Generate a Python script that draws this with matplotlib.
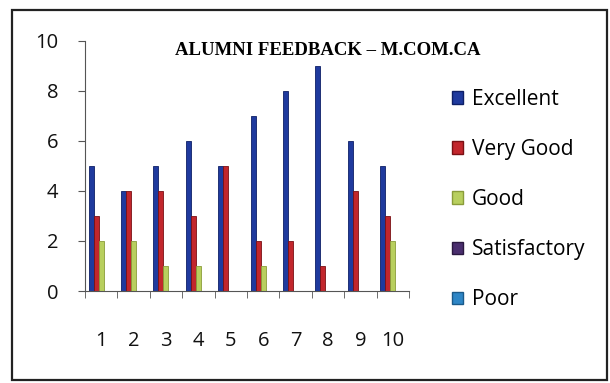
import matplotlib.pyplot as plt
import numpy as np
from matplotlib.patches import Rectangle, Patch

# Chart data
categories = ["1", "2", "3", "4", "5", "6", "7", "8", "9", "10"]
series_names = ["Excellent", "Very Good", "Good", "Satisfactory", "Poor"]
excellent = [5, 4, 5, 6, 5, 7, 8, 9, 6, 5]
very_good = [3, 4, 4, 3, 5, 2, 2, 1, 4, 3]
good = [2, 2, 1, 1, 0, 1, 0, 0, 0, 2]
satisfactory = [0, 0, 0, 0, 0, 0, 0, 0, 0, 0]
poor = [0, 0, 0, 0, 0, 0, 0, 0, 0, 0]

colors = ["#1f3a9e", "#c2262c", "#b8cf5e", "#4a2e6e", "#2e86c6"]
edges = ["#0e1f66", "#7a1014", "#8a9c3a", "#2a1840", "#1a5a8a"]

fig = plt.figure(figsize=(6.1, 3.83), dpi=100)
ax = fig.add_axes([0.1393, 0.2402, 0.5312, 0.6528])

x = np.arange(len(categories))
width = 0.155
values = [excellent, very_good, good, satisfactory, poor]
for i, vals in enumerate(values):
    ax.bar(x + (i - 2) * width, vals, width, color=colors[i],
           edgecolor=edges[i], linewidth=0.6, label=series_names[i])

ax.set_xlim(-0.5, len(categories) - 0.5)
ax.set_ylim(0, 10)
ax.set_yticks([0, 2, 4, 6, 8, 10])

for s in ["top", "right"]:
    ax.spines[s].set_visible(False)
ax.spines["left"].set_color("#555555")
ax.spines["bottom"].set_color("#555555")
ax.spines["left"].set_linewidth(0.8)
ax.spines["bottom"].set_linewidth(0.8)

ax.set_xticks(x)
ax.set_xticklabels(categories)
ax.set_xticks(np.arange(-0.5, len(categories)), minor=True)
ax.tick_params(axis="x", which="major", length=0, pad=29)
ax.tick_params(axis="x", which="minor", length=5, direction="out", color="#555555")
ax.tick_params(axis="y", length=5, pad=14, color="#555555")
for lab in ax.get_xticklabels() + ax.get_yticklabels():
    lab.set_fontfamily("Open Sans")
    lab.set_fontsize(14.5)
    lab.set_color("#111111")

fig.text(0.538, 0.868, "ALUMNI FEEDBACK \u2013 M.COM.CA", ha="center", va="center",
         fontfamily="Liberation Serif", fontweight="bold", fontsize=13.5)

handles = [Patch(facecolor=colors[i], edgecolor=edges[i], label=series_names[i])
           for i in range(len(series_names))]
fig.legend(handles=handles, loc="upper left", bbox_to_anchor=(0.727, 0.79),
           frameon=False, prop={"family": "Open Sans", "size": 15},
           handlelength=0.55, handleheight=0.55, handletextpad=0.4,
           labelspacing=1.4, borderaxespad=0)

# Outer frame around the whole chart
fig.patches.append(Rectangle((0.02, 0.008), 0.975, 0.965, transform=fig.transFigure,
                             fill=False, edgecolor="#222222", linewidth=1.6))

fig.savefig("out.png", dpi=100)
